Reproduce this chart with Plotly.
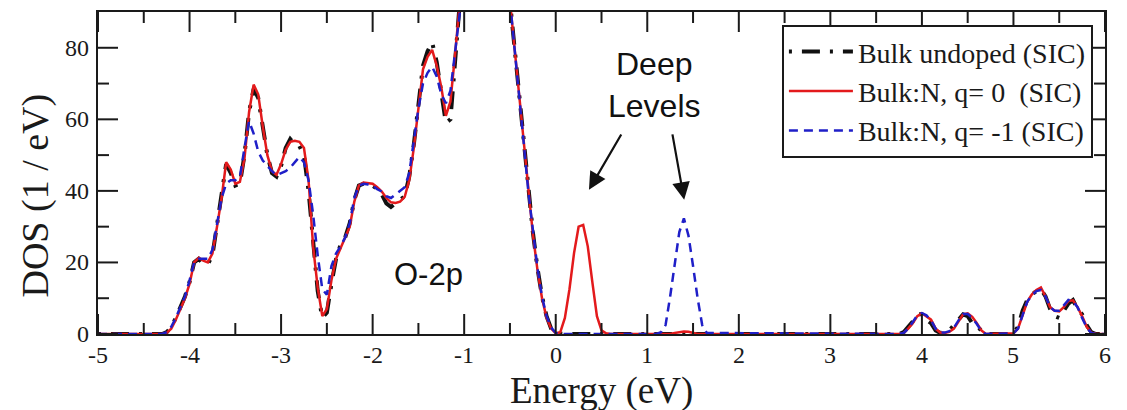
import plotly.graph_objects as go

# ---------------- data ----------------
energy_a = [-5.0, -4.35]
undoped_a = [0, 0]
q0_a = [0, 0]
qm1_a = [0, 0]

energy_b = [-4.30, -4.25, -4.20, -4.15, -4.10, -4.05, -4.00, -3.95, -3.90, -3.85,
            -3.80, -3.75, -3.70, -3.65, -3.60, -3.55, -3.50, -3.45, -3.40, -3.35,
            -3.30, -3.25, -3.20, -3.15, -3.10, -3.05, -3.00, -2.95, -2.90, -2.85,
            -2.80, -2.75, -2.70, -2.65, -2.60, -2.55, -2.50, -2.45, -2.40, -2.35,
            -2.30, -2.25, -2.20, -2.15, -2.10, -2.05, -2.00, -1.95, -1.90, -1.85,
            -1.80, -1.75, -1.70, -1.65, -1.60, -1.55, -1.50, -1.45, -1.40, -1.35,
            -1.30, -1.25, -1.20, -1.15, -1.10, -1.05, -1.00]
q0_b = [0, 0.3, 1.5, 4, 7, 10, 14, 20, 21.3, 20.5,
        20.0, 22.5, 30, 38, 48, 46, 42, 42.5, 49, 62,
        69.7, 67, 58, 50, 45.5, 44.5, 47.5, 51.5, 53.7, 54,
        53.7, 52, 43, 24.4, 13, 5, 7, 15, 21, 24,
        26.5, 30, 37, 41.5, 42.3, 42.2, 42, 41, 39.8, 38,
        36.8, 36.6, 37, 38.3, 43, 52, 63, 74, 77.5, 79.4,
        75, 69, 61, 65, 78, 92, 100]
undoped_b = [0, 0.5, 2, 4.5, 7.5, 10.5, 14.5, 20, 21, 19.5,
             19.5, 22, 30.5, 39, 47.5, 45, 41.5, 42, 50, 62,
             68.5, 66, 58.5, 50, 45, 44, 47, 52, 54.5, 53,
             52.5, 50, 40, 27, 12, 4.5, 6, 14, 21, 25,
             27, 31, 37.5, 41.5, 42, 42, 41.5, 40.5, 39, 36.5,
             35.5, 36.5, 37.5, 38.5, 44, 53, 64, 75, 79, 81.5,
             76, 68, 59, 60, 76, 92, 100]
qm1_b = [0, 0.5, 2, 4.5, 7.5, 10.5, 15, 20, 21, 21,
         21, 23.5, 31, 38, 42, 43, 43, 44, 52, 59.5,
         56, 51, 48.5, 47, 45.5, 44.4, 45, 45.5, 46.5, 48,
         49.5, 48, 43, 33.4, 22, 12.5, 11, 19, 22.5, 24.5,
         27, 31, 38, 41.5, 42, 41.8, 41.5, 40.5, 39.8, 38.5,
         38, 39, 40, 41, 45, 54, 63, 70, 73, 74.7,
         72, 67, 64.5, 68, 79, 92, 100]

energy_c = [-0.9, -0.8, -0.7, -0.6]
undoped_c = [115, 125, 120, 108]
q0_c = [115, 125, 120, 108]
qm1_c = [115, 125, 120, 108]

energy_d = [-0.50, -0.45, -0.40, -0.35, -0.30, -0.25, -0.20, -0.15, -0.10, -0.05,
            0.00, 0.05, 0.10, 0.15, 0.20, 0.25, 0.30, 0.35, 0.40, 0.45,
            0.50, 0.55, 0.60]
q0_d = [93, 80, 66, 53, 39.5, 28, 18, 10, 4.5, 1.5,
        0.2, 0.5, 4.5, 12.5, 22.6, 30, 30.5, 24.5, 14.5, 5,
        1, 0.2, 0]
undoped_d = [93, 80, 66.5, 53, 40, 28.5, 18.5, 10.5, 5, 1.5,
             0.2, 0, 0, 0, 0, 0, 0, 0, 0, 0,
             0, 0, 0]
qm1_d = [93, 80.5, 67, 53.5, 40, 28.5, 18.5, 10.5, 5, 1.8,
         0.3, 0, 0, 0, 0, 0, 0, 0, 0, 0,
         0, 0, 0]

energy_e = [1.10, 1.15, 1.20, 1.25, 1.30, 1.35, 1.40, 1.45, 1.50, 1.55, 1.60, 1.65]
q0_e = [0, 0, 0, 0, 0.3, 0.6, 0.7, 0.6, 0.3, 0, 0, 0]
undoped_e = [0, 0, 0, 0, 0, 0, 0, 0, 0, 0, 0, 0]
qm1_e = [0, 0.5, 2.5, 10.5, 20, 28.5, 32.3, 27.5, 19, 10, 2.5, 0.3]

energy_f = [3.75, 3.80, 3.85, 3.90, 3.95, 4.00, 4.05, 4.10, 4.15, 4.20,
            4.25, 4.30, 4.35, 4.40, 4.45, 4.50, 4.55, 4.60, 4.65, 4.70]
q0_f = [0, 0.3, 1.5, 3, 5, 5.8, 5, 4, 1.5, 0.4,
        0.3, 0.6, 1.5, 3.5, 5.5, 5.8, 4.8, 3, 1, 0]
undoped_f = [0, 0.5, 2, 3.5, 5.5, 5.5, 4, 3, 1, 0.3,
             0.5, 1, 2.5, 4, 5.5, 5, 3, 2.5, 0.8, 0]
qm1_f = [0, 0.3, 1.5, 3.2, 5.2, 5.8, 5.2, 3.8, 1.5, 0.4,
         0.4, 0.8, 1.8, 3.8, 5.6, 5.6, 4.5, 2.8, 0.8, 0]

energy_g = [4.95, 5.00, 5.05, 5.10, 5.15, 5.20, 5.25, 5.30, 5.35, 5.40,
            5.45, 5.50, 5.55, 5.60, 5.65, 5.70, 5.75, 5.80, 5.85, 5.90]
q0_g = [0, 0.2, 1.5, 5.5, 9, 11, 12.3, 13, 10.5, 7.5,
        6.5, 6.3, 7.5, 9.2, 9.4, 7.5, 5, 2, 0.4, 0]
undoped_g = [0, 0.3, 2, 6.5, 9.5, 11, 12, 12.5, 10.5, 7,
             5, 4.5, 6.5, 8.5, 9.5, 7, 5.5, 2.5, 0.5, 0]
qm1_g = [0, 0.2, 1.5, 5.5, 9, 10.8, 12, 12.3, 10.5, 7.5,
         6.5, 6.5, 8, 9.5, 9.2, 7.5, 4.5, 1.8, 0.3, 0]

energy_h = [6.0]
undoped_h = [0]
q0_h = [0]
qm1_h = [0]

x_tick_vals = [-5, -4, -3, -2, -1, 0, 1, 2, 3, 4, 5, 6]
x_tick_text = ["-5", "-4", "-3", "-2", "-1", "0", "1", "2", "3", "4", "5", "6"]
x_minor_vals = [-4.5, -3.5, -2.5, -1.5, -0.5, 0.5, 1.5, 2.5, 3.5, 4.5, 5.5]
y_tick_vals = [0, 20, 40, 60, 80]
y_tick_text = ["0", "20", "40", "60", "80"]
y_minor_vals = [10, 30, 50, 70]

series_names = ["Bulk undoped (SIC)", "Bulk:N, q= 0  (SIC)", "Bulk:N, q= -1 (SIC)"]
x_title = "Energy (eV)"
y_title = "DOS (1 / eV)"

# ---------------- assemble ----------------
energy = energy_a + energy_b + energy_c + energy_d + energy_e + energy_f + energy_g + energy_h
undoped = undoped_a + undoped_b + undoped_c + undoped_d + undoped_e + undoped_f + undoped_g + undoped_h
q0 = q0_a + q0_b + q0_c + q0_d + q0_e + q0_f + q0_g + q0_h
qm1 = qm1_a + qm1_b + qm1_c + qm1_d + qm1_e + qm1_f + qm1_g + qm1_h

SERIF = "Liberation Serif"
SANS = "Liberation Sans"
INK = "#1a1a1a"

fig = go.Figure()
fig.add_trace(go.Scatter(x=energy, y=undoped, mode="lines", name=series_names[0],
                         line=dict(color="#111111", width=4, dash="3px,10px,18px,10px")))
fig.add_trace(go.Scatter(x=energy, y=q0, mode="lines", name=series_names[1],
                         line=dict(color="#e31a1c", width=2.5)))
fig.add_trace(go.Scatter(x=energy, y=qm1, mode="lines", name=series_names[2],
                         line=dict(color="#1f1fc8", width=2.5, dash="9px,6px")))

fig.update_layout(width=1127, height=410, margin=dict(l=98, r=22, t=12, b=76),
                  paper_bgcolor="white", plot_bgcolor="white")
fig.update_xaxes(range=[-5, 6], showticklabels=False, ticks="", showline=True,
                 linewidth=2, linecolor=INK, mirror=True, showgrid=False, zeroline=False,
                 automargin=False)
fig.update_yaxes(range=[0, 90], showticklabels=False, ticks="", showline=True,
                 linewidth=2, linecolor=INK, mirror=True, showgrid=False, zeroline=False,
                 automargin=False)

# ---- inward tick marks on all four sides (positions from the tick arrays) ----
shapes = []
for vals, length in ((x_tick_vals, 20), (x_minor_vals, 11)):
    for v in vals:
        shapes.append(dict(type="line", xref="x", yref="paper", ysizemode="pixel", yanchor=0,
                           x0=v, x1=v, y0=0, y1=length, layer="above",
                           line=dict(color=INK, width=2)))
        shapes.append(dict(type="line", xref="x", yref="paper", ysizemode="pixel", yanchor=1,
                           x0=v, x1=v, y0=0, y1=-length, layer="above",
                           line=dict(color=INK, width=2)))
for vals, length in ((y_tick_vals, 20), (y_minor_vals, 11)):
    for v in vals:
        shapes.append(dict(type="line", yref="y", xref="paper", xsizemode="pixel", xanchor=0,
                           y0=v, y1=v, x0=0, x1=length, layer="above",
                           line=dict(color=INK, width=2)))
        shapes.append(dict(type="line", yref="y", xref="paper", xsizemode="pixel", xanchor=1,
                           y0=v, y1=v, x0=0, x1=-length, layer="above",
                           line=dict(color=INK, width=2)))

# ---- tick labels and axis titles as text ----
annotations = []
for v, t in zip(x_tick_vals, x_tick_text):
    annotations.append(dict(x=v, y=0, xref="x", yref="paper", text=t, showarrow=False,
                            yanchor="middle", xanchor="center", yshift=-21,
                            font=dict(family=SERIF, size=24, color=INK)))
for v, t in zip(y_tick_vals, y_tick_text):
    annotations.append(dict(x=0, y=v, xref="paper", yref="y", text=t, showarrow=False,
                            xanchor="right", yanchor="middle", xshift=-7,
                            font=dict(family=SERIF, size=24, color=INK)))
annotations.append(dict(x=0.5, y=0, xref="paper", yref="paper", text=x_title, showarrow=False,
                        xanchor="center", yanchor="middle", yshift=-57,
                        font=dict(family=SERIF, size=37, color=INK)))
annotations.append(dict(x=0, y=0.43, xref="paper", yref="paper", text=y_title, showarrow=False,
                        textangle=-90, xanchor="center", yanchor="middle", xshift=-62,
                        font=dict(family=SERIF, size=38, color=INK)))

# ---- arrows and labels inside the plot ----
annotations += [
    dict(x=0.363, y=40.3, ax=0.725, ay=56.2, xref="x", yref="y", axref="x", ayref="y",
         showarrow=True, arrowhead=2, arrowsize=1.6, arrowwidth=2.2, arrowcolor="#111111",
         text=""),
    dict(x=1.403, y=37.5, ax=1.272, ay=56.2, xref="x", yref="y", axref="x", ayref="y",
         showarrow=True, arrowhead=2, arrowsize=1.6, arrowwidth=2.2, arrowcolor="#111111",
         text=""),
    dict(x=1.075, y=69.6, xref="x", yref="y", showarrow=False, text="Deep<br>Levels",
         font=dict(family=SANS, size=32, color="#111111"), align="center"),
    dict(x=-1.39, y=16.5, xref="x", yref="y", showarrow=False, text="O-2p",
         font=dict(family=SANS, size=31, color="#111111")),
]

fig.update_layout(
    shapes=shapes,
    annotations=annotations,
    showlegend=True,
    legend=dict(x=0.988, y=0.96, xanchor="right", yanchor="top",
                bgcolor="white", bordercolor=INK, borderwidth=2,
                font=dict(family=SERIF, size=28, color=INK),
                itemwidth=64, tracegroupgap=0),
)

fig.write_html("out.html")
